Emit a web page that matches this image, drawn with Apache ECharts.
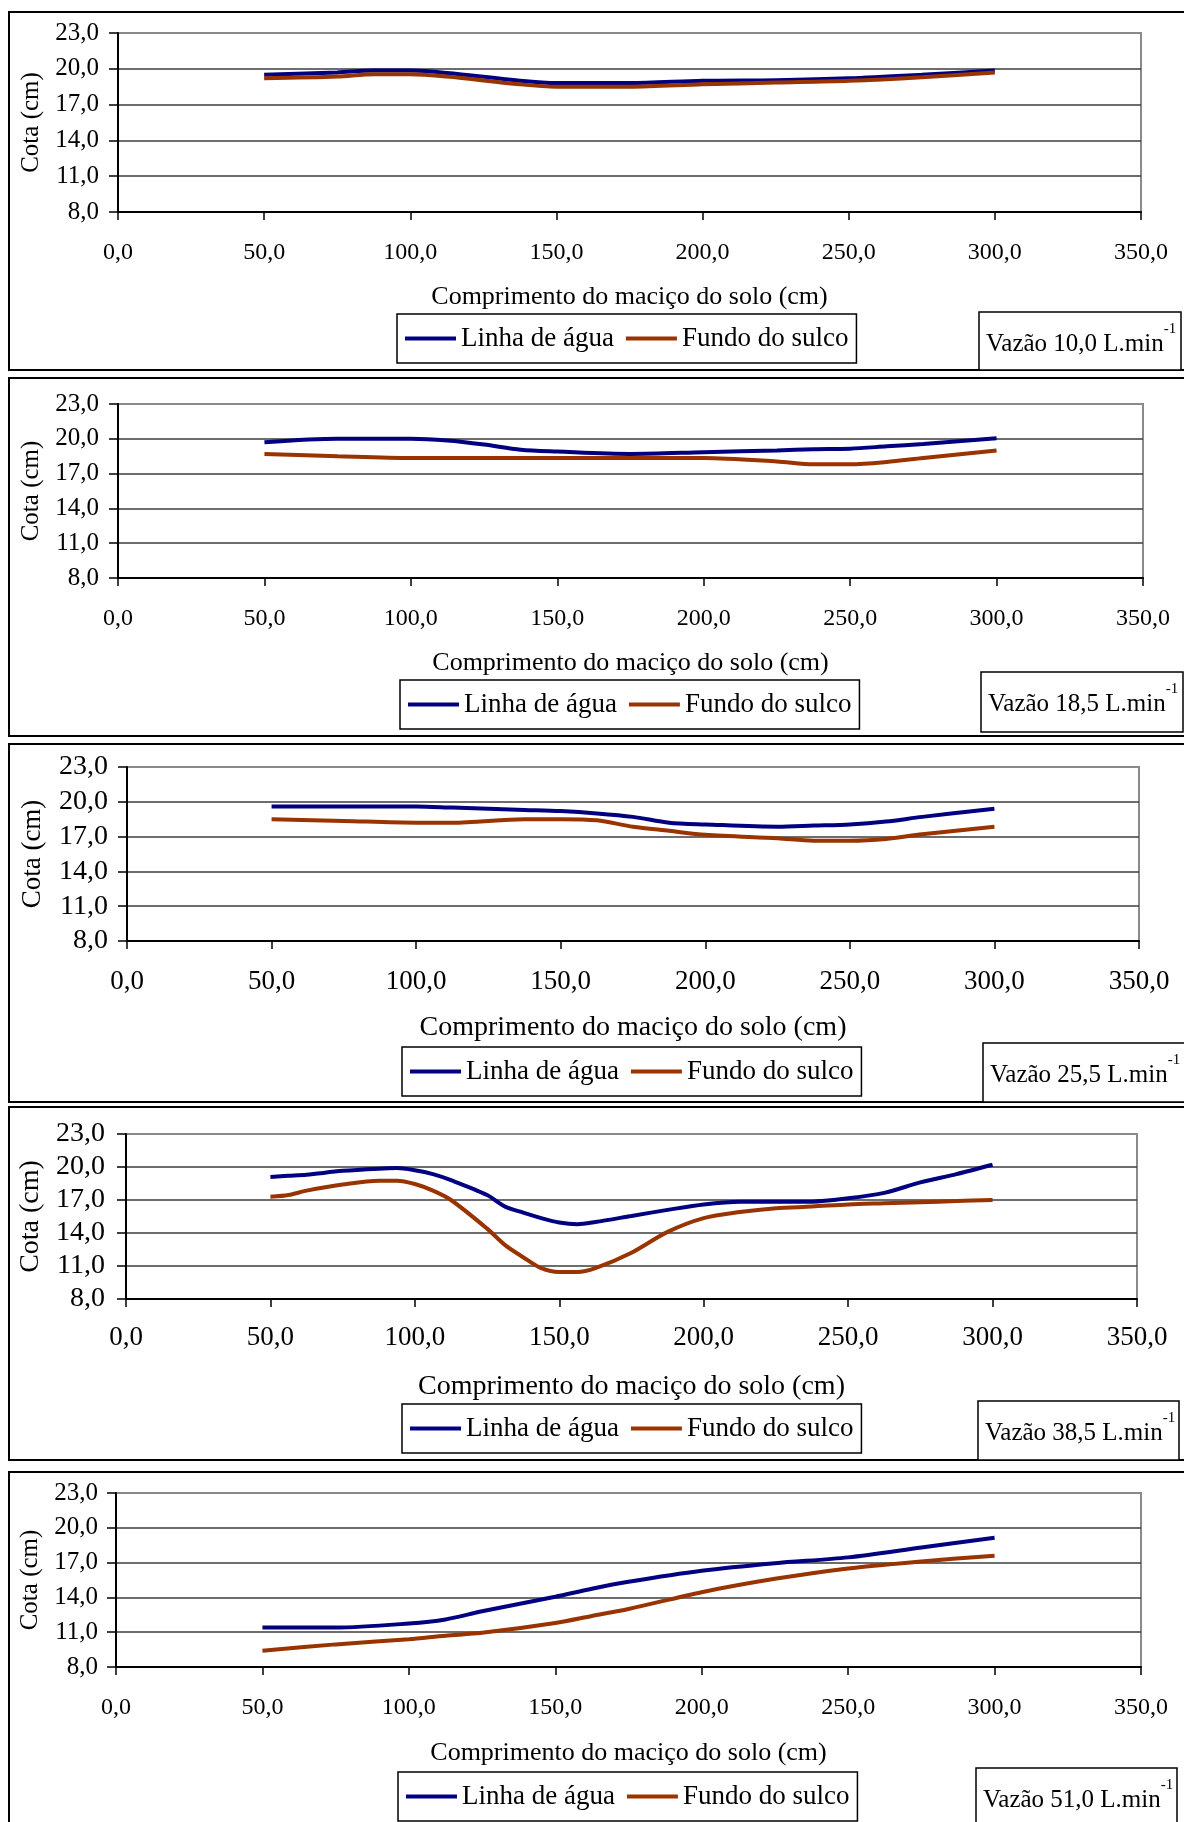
<!DOCTYPE html>
<html>
<head>
<meta charset="utf-8">
<script src="https://cdn.jsdelivr.net/npm/echarts@6/dist/echarts.min.js"></script>
<style>
  html, body { margin: 0; padding: 0; background: #fff; }
  #chart { width: 1184px; height: 1822px; }
</style>
</head>
<body>
<div id="chart"></div>
<script>
// Series names and axis ticks
const seriesNames = ['Linha de água', 'Fundo do sulco'];
const xTicks = [0, 50, 100, 150, 200, 250, 300, 350];
const yTicks = [8, 11, 14, 17, 20, 23];
const flowRates = ['10,0', '18,5', '25,5', '38,5', '51,0'];

// Vazão 10,0 L/min
const pos10 = [50, 75, 87.5, 100, 112.5, 137.5, 150, 175, 200, 225, 250, 275, 300];
const agua10 = [19.5, 19.7, 19.85, 19.85, 19.65, 19.0, 18.8, 18.8, 19.0, 19.05, 19.2, 19.5, 19.85];
const fundo10 = [19.2, 19.35, 19.55, 19.55, 19.35, 18.7, 18.5, 18.5, 18.7, 18.85, 19.0, 19.3, 19.7];

// Vazão 18,5 L/min
const pos18 = [50, 75, 100, 112.5, 125, 137.5, 150, 175, 200, 225, 237.5, 250, 262.5, 275, 300];
const agua18 = [19.7, 20.0, 20.0, 19.85, 19.5, 19.05, 18.9, 18.7, 18.85, 19.0, 19.1, 19.15, 19.35, 19.55, 20.05];
const fundo18 = [18.7, 18.5, 18.35, 18.35, 18.35, 18.35, 18.35, 18.35, 18.35, 18.05, 17.8, 17.8, 18.0, 18.35, 19.0];

// Vazão 25,5 L/min
const pos25 = [50, 75, 100, 112.5, 137.5, 150, 162.5, 175, 187.5, 200, 225, 237.5, 250, 262.5, 275, 300];
const agua25 = [19.6, 19.6, 19.6, 19.5, 19.3, 19.2, 19.0, 18.7, 18.2, 18.05, 17.85, 17.95, 18.05, 18.3, 18.7, 19.4];
const fundo25 = [18.5, 18.35, 18.2, 18.2, 18.5, 18.5, 18.4, 17.85, 17.5, 17.15, 16.85, 16.65, 16.65, 16.8, 17.2, 17.85];

// Vazão 38,5 L/min
const pos38 = [50, 56.25, 62.5, 75, 87.5, 93.75, 100, 106.25, 112.5, 125, 131.25, 137.5, 143.75, 150, 156.25, 162.5, 175, 187.5, 200, 212.5, 225, 237.5, 250, 262.5, 275, 287.5, 300];
const agua38 = [19.1, 19.2, 19.3, 19.65, 19.85, 19.9, 19.7, 19.35, 18.8, 17.45, 16.4, 15.85, 15.35, 14.95, 14.8, 15.0, 15.55, 16.1, 16.6, 16.85, 16.85, 16.85, 17.15, 17.65, 18.6, 19.35, 20.2];
const fundo38 = [17.3, 17.45, 17.85, 18.4, 18.75, 18.75, 18.45, 17.85, 17.0, 14.4, 12.9, 11.8, 10.8, 10.45, 10.45, 10.8, 12.2, 14.1, 15.35, 15.9, 16.25, 16.4, 16.6, 16.7, 16.8, 16.9, 17.0];

// Vazão 51,0 L/min
const pos51 = [50, 75, 100, 112.5, 125, 150, 162.5, 175, 200, 225, 250, 275, 300];
const agua51 = [11.4, 11.4, 11.75, 12.1, 12.8, 14.05, 14.75, 15.35, 16.3, 16.95, 17.45, 18.3, 19.15];
const fundo51 = [9.4, 9.95, 10.4, 10.7, 10.95, 11.8, 12.4, 13.0, 14.45, 15.6, 16.5, 17.1, 17.6];

const panelData = [
  [pos10, agua10, fundo10],
  [pos18, agua18, fundo18],
  [pos25, agua25, fundo25],
  [pos38, agua38, fundo38],
  [pos51, agua51, fundo51]
];

// Page layout of each panel (pixels)
const layout = [
  { grid: [118, 33, 1023, 179], frame: [12, 370], legend: [397, 314], box: [979, 312, 202, 58], tick: 24, ylab: 25, title: 26, cota: 25, xm: 29, tg: 72, ym: 19, cg: 74 },
  { grid: [118, 404, 1025, 174], frame: [378, 736], legend: [400, 680], box: [981, 672, 202, 60], tick: 24, ylab: 25, title: 26, cota: 25, xm: 29, tg: 72, ym: 19, cg: 74 },
  { grid: [127, 767, 1012, 174], frame: [744, 1102], legend: [402, 1047], box: [983, 1043, 220, 59], tick: 27, ylab: 28, title: 28, cota: 27, xm: 27, tg: 73, ym: 19, cg: 81 },
  { grid: [126, 1134, 1011, 165], frame: [1107, 1460], legend: [402, 1404], box: [978, 1401, 201, 59], tick: 27, ylab: 28, title: 28, cota: 28, xm: 25, tg: 74, ym: 21, cg: 80 },
  { grid: [116, 1493, 1025, 174], frame: [1472, 1840], legend: [398, 1772], box: [976, 1768, 201, 80], tick: 24, ylab: 25, title: 26, cota: 25, xm: 29, tg: 73, ym: 18, cg: 73 }
];

const FONT = "'Liberation Serif', 'Times New Roman', serif";
const colors = ['#000080', '#993300'];
const fmt = v => v.toFixed(1).replace('.', ',');

const grids = [], xAxes = [], yAxes = [], series = [], legends = [], graphics = [];

layout.forEach((L, i) => {
  grids.push({
    left: L.grid[0], top: L.grid[1], width: L.grid[2], height: L.grid[3],
    show: true, borderColor: '#8a8a8a', borderWidth: 2, backgroundColor: 'transparent'
  });
  xAxes.push({
    gridIndex: i, type: 'value',
    min: xTicks[0], max: xTicks[xTicks.length - 1], interval: xTicks[1] - xTicks[0],
    name: 'Comprimento do maciço do solo (cm)', nameLocation: 'middle', nameGap: L.tg,
    nameTextStyle: { fontFamily: FONT, fontSize: L.title, color: '#000' },
    axisLine: { show: true, onZero: false, lineStyle: { color: '#000', width: 2 } },
    axisTick: { show: true, length: 8, lineStyle: { color: '#000', width: 1.5 } },
    axisLabel: { formatter: fmt, fontFamily: FONT, fontSize: L.tick, color: '#000', margin: L.xm, showMinLabel: true, showMaxLabel: true },
    splitLine: { show: false }
  });
  yAxes.push({
    gridIndex: i, type: 'value',
    min: yTicks[0], max: yTicks[yTicks.length - 1], interval: yTicks[1] - yTicks[0],
    name: 'Cota (cm)', nameLocation: 'middle', nameRotate: 90, nameGap: L.cg,
    nameTextStyle: { fontFamily: FONT, fontSize: L.cota, color: '#000' },
    axisLine: { show: true, lineStyle: { color: '#000', width: 2 } },
    axisTick: { show: true, length: 9, lineStyle: { color: '#000', width: 1.5 } },
    axisLabel: { formatter: fmt, fontFamily: FONT, fontSize: L.ylab, color: '#000', margin: L.ym },
    splitLine: { show: true, showMinLine: false, showMaxLine: false, lineStyle: { color: '#3c3c3c', width: 1.5 } }
  });
  const [xs, agua, fundo] = panelData[i];
  [agua, fundo].forEach((vals, k) => {
    series.push({
      name: seriesNames[k], type: 'line', xAxisIndex: i, yAxisIndex: i,
      data: xs.map((x, j) => [x, vals[j]]),
      smooth: 0.3, showSymbol: false, symbol: 'none',
      lineStyle: { color: colors[k], width: 4 }, itemStyle: { color: colors[k] },
      z: 3 + k
    });
  });
  legends.push({
    data: seriesNames, left: L.legend[0], top: L.legend[1],
    orient: 'horizontal', icon: 'rect', itemWidth: 51, itemHeight: 4, itemGap: 12,
    padding: [10, 8], borderColor: '#000', borderWidth: 1.5, backgroundColor: '#fff',
    selectedMode: false,
    textStyle: { fontFamily: FONT, fontSize: 27, color: '#000', lineHeight: 29 }
  });
  // panel frame
  graphics.push({
    type: 'rect', silent: true, z: 0,
    shape: { x: 9, y: L.frame[0], width: 1200, height: L.frame[1] - L.frame[0] },
    style: { fill: 'none', stroke: '#000', lineWidth: 2 }
  });
  // flow-rate box
  graphics.push({
    type: 'rect', silent: true, z: 1,
    shape: { x: L.box[0], y: L.box[1], width: L.box[2], height: L.box[3] },
    style: { fill: '#fff', stroke: '#000', lineWidth: 1.5 }
  });
  graphics.push({
    type: 'text', silent: true, z: 2,
    x: L.box[0] + 7, y: L.box[1] + 10,
    style: {
      text: '{m|Vazão ' + flowRates[i] + ' L.min}{s|-1}',
      rich: {
        m: { fontFamily: FONT, fontSize: 25, color: '#000', lineHeight: 44 },
        s: { fontFamily: FONT, fontSize: 15, color: '#000', lineHeight: 15, verticalAlign: 'top' }
      }
    }
  });
});

const chart = echarts.init(document.getElementById('chart'), null, { renderer: 'canvas' });
chart.setOption({
  animation: false,
  backgroundColor: '#fff',
  grid: grids,
  xAxis: xAxes,
  yAxis: yAxes,
  legend: legends,
  series: series,
  graphic: graphics
});
</script>
</body>
</html>
